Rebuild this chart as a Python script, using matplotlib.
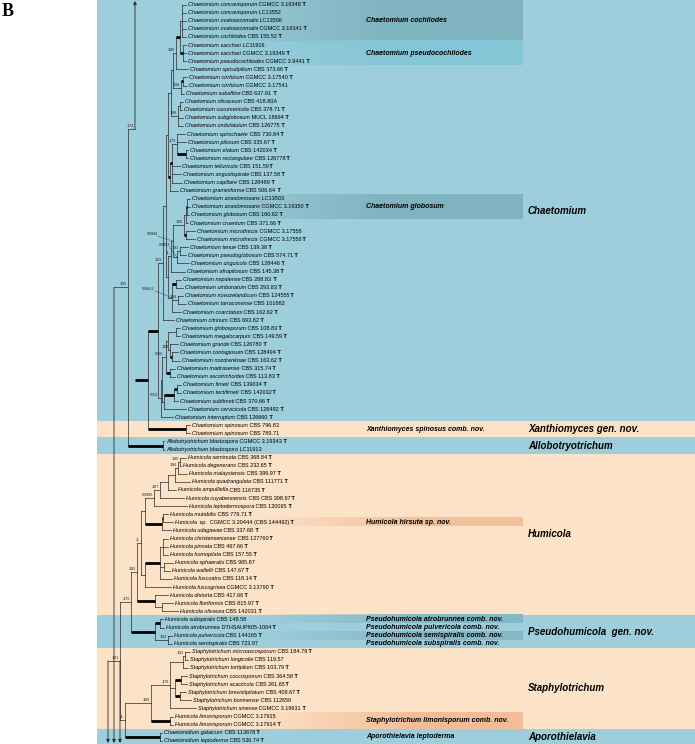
import numpy as np
import matplotlib.pyplot as plt
from matplotlib.collections import LineCollection
from matplotlib.colors import to_rgb

plt.rcParams['font.family'] = ['Liberation Sans', 'DejaVu Sans']

# ---------------- data ----------------
species = [
    "Chaetomium concavisporum", "Chaetomium concavisporum", "Chaetomium ovatoascomatis",
    "Chaetomium ovatoascomatis", "Chaetomium cochliodes", "Chaetomium sacchari",
    "Chaetomium sacchari", "Chaetomium pseudocochliodes", "Chaetomium spiculipilium",
    "Chaetomium cirrhinum", "Chaetomium cirrhinum", "Chaetomium subaffine",
    "Chaetomium olivaceum", "Chaetomium cucumericola", "Chaetomium subglobosum",
    "Chaetomium undulatulum", "Chaetomium spirochaete", "Chaetomium pilosum",
    "Chaetomium elatum", "Chaetomium rectangulare", "Chaetomium telluricola",
    "Chaetomium angustispirale", "Chaetomium capillare", "Chaetomium graminiforme",
    "Chaetomium anastomosans", "Chaetomium anastomosans", "Chaetomium globosum",
    "Chaetomium cruentum", "Chaetomium microthecia", "Chaetomium microthecia",
    "Chaetomium tenue", "Chaetomium pseudoglobosum", "Chaetomium unguicola",
    "Chaetomium afropilosum", "Chaetomium nepalense", "Chaetomium umbonatum",
    "Chaetomium novozelandicum", "Chaetomium tarraconense", "Chaetomium coarctatum",
    "Chaetomium citrinum", "Chaetomium globosporum", "Chaetomium megalocarpum",
    "Chaetomium grande", "Chaetomium contagiosum", "Chaetomium nozdrenkoae",
    "Chaetomium madrasense", "Chaetomium ascotrichoides", "Chaetomium fimeti",
    "Chaetomium tectifimeti", "Chaetomium subfimeti", "Chaetomium cervicicola",
    "Chaetomium interruptum", "Chaetomium spinosum", "Chaetomium spinosum",
    "Allobotryotrichum blastospora", "Allobotryotrichum blastospora",
    "Humicola seminuda", "Humicola degenerans", "Humicola malaysiensis",
    "Humicola quadrangulata", "Humicola ampulliella", "Humicola cuyabenoensis",
    "Humicola leptodermospora", "Humicola mutabilis", "Humicola",
    "Humicola udagawae", "Humicola christensenianae", "Humicola pinnata",
    "Humicola homopilata", "Humicola sphaeralis", "Humicola wallefii",
    "Humicola fuscoatra", "Humicola fuscogrisea", "Humicola distorta",
    "Humicola floriformis", "Humicola olivacea", "Humicola subspiralis",
    "Humicola atrobrunnea", "Humicola pulvericola", "Humicola semispiralis",
    "Staphylotrichum microascosporum", "Staphylotrichum longicolle",
    "Staphylotrichum tortipilum", "Staphylotrichum coccosporum",
    "Staphylotrichum acaciicola", "Staphylotrichum brevistipitatum",
    "Staphylotrichum boninense", "Staphylotrichum sinense",
    "Humicola limonisporum", "Humicola limonisporum",
    "Chaetomidium galaicum", "Chaetomidium leptoderma",
]
strains = [
    "CGMCC 3.19348", "LC13552", "LC13506", "CGMCC 3.19341", "CBS 155.52",
    "LC11916", "CGMCC 3.19349", "CGMCC 3.9441", "CBS 373.66", "CGMCC 3.17540",
    "CGMCC 3.17541", "CBS 637.91", "CBS 418.80A", "CBS 378.71", "MUCL 18694",
    "CBS 126775", "CBS 730.84", "CBS 335.67", "CBS 142034", "CBS 126778",
    "CBS 151.59", "CBS 137.58", "CBS 128489", "CBS 506.84", "LC13503",
    "CGMCC 3.19350", "CBS 160.62", "CBS 371.66", "CGMCC 3.17558", "CGMCC 3.17556",
    "CBS 139.38", "CBS 574.71", "CBS 128446", "CBS 145.38", "CBS 288.83",
    "CBS 293.83", "CBS 124555", "CBS 101882", "CBS 162.62", "CBS 693.82",
    "CBS 108.83", "CBS 149.59", "CBS 126780", "CBS 128494", "CBS 163.62",
    "CBS 315.74", "CBS 113.83", "CBS 139034", "CBS 142032", "CBS 370.66",
    "CBS 128492", "CBS 126660", " CBS 796.83", "CBS 789.71",
    "CGMCC 3.19343", "LC11913",
    "CBS 368.84", "CBS 232.65", "CBS 399.97", "CBS 111771", "CBS 116735",
    "CBS CBS 398.97", "CBS 120095", "CBS 779.71", "sp.  CGMCC 3.20444 (CBS 144492)",
    "CBS 337.68", "CBS 127760", "CBS 467.66", "CBS 157.55", "CBS 965.87",
    "CBS 147.67", "CBS 118.14", "CGMCC 3.13790", "CBS 417.66", "CBS 815.97",
    "CBS 142031", "CBS 148.58", "DTHSAUP805-1004", "CBS 144165", "CBS 723.97",
    "CBS 184.79", "CBS 119.57", "CBS 103.79", "CBS 364.58", "CBS 261.65",
    "CBS 408.67", "CBS 112659", "CGMCC 3.19631", "CGMCC 3.17915", "CGMCC 3.17914",
    " CBS 113678", " CBS 536.74",
]
type_strain = [
    1, 0, 0, 1, 1, 0, 1, 1, 1, 1, 0, 1, 0, 1, 1, 1, 1, 1, 1, 1,
    1, 1, 1, 1, 0, 1, 1, 1, 0, 1, 1, 1, 1, 1, 1, 1, 1, 0, 1, 1,
    1, 1, 1, 1, 1, 1, 1, 1, 1, 1, 1, 1, 0, 0, 1, 0,
    1, 1, 1, 1, 1, 1, 1, 1, 1, 1, 1, 1, 1, 0, 1, 1, 1, 1, 1, 1,
    0, 1, 1, 0, 1, 0, 1, 1, 1, 1, 0, 1, 0, 1, 1, 1,
]

# tree pieces (Newick, branch lengths in pixels; '*' = bold stem, quoted text = support)
coch = "(t1:4,t2:4,t3:4,t4:4,t5:4)"
pseu = "(t6:3,t7:3,t8:3)"
na12 = f"({coch}:2,{pseu}'*':3)"
na = f"({na12}'*':4,t9:12)"
na3 = "((t10:4,t11:4)'*':2,t12:3)"
naa = f"({na}'1/96':3,{na3}'1/94':8)"
nb = "((t13:3,t14:2):2,t15:5,t16:5)"
g1 = f"({naa}:2,{nb}'1/88':7)"
g2 = "(((t17:8,t18:9,(t19:2,t20:2)'*':9)'1/79':5,t21:8,t22:9,t23:10)'*':2,t24:8)"
g12 = f"({g1}:3,{g2}'*':2)"
d2 = "((t25:3,t26:3,t27:2)'*':1,t28:2)"
d3 = f"({d2}:2,(t29:9,t30:9)'*':2)"
d5 = "((t31:8,t32:6)'1/91':3,t33:12)"
d6 = f"(({d3}'1/95':11,{d5}'0.9963':4)'0.9984':2,t34:14)"
d7 = "((t35:5,t36:7)'*':4,(t37:5,t38:8)'1/84':6,t39:9)"
dd = f"({d6}'1/-':3,{d7}'0.96/62':4)"
up1 = f"(({g12}:2,{dd}:2):3,t40:11)"
e1 = "((t41:4,t42:4):8,(t43:8,(t44:6,t45:8)'*':2)'1/89':2)"
e2 = f"({e1}:2,(t46:5,t47:5)'*':4)"
e3 = "(((t48:4,t49:4)'*':3,t50:4)'*':10,t51:22)"
g4 = f"(({e2}'0.96/-':4,{e3}:2):1,t52:12)"
crown = f"({up1}'1/59':5,{g4}'0.93/-':3)"
n148 = f"({crown}'*':10,(t53:4,t54:4)'*':38)"
x135 = f"(UP:0,{n148}'*':13)"
n128 = f"({x135}'1/74':7,(t55:1,t56:1)'*':35)"
upper_tree = f"({n128}'1/95':14,DOWN:0)"

ha = "(t57:6,t58:1)"
hb = f"({ha}'1/95':2,t59:9)"
hc = f"({hb}'1/96':3,t60:15)"
hd = f"({hc}:7,t61:8)"
he = f"({hd}:8,t62:24)"
hf = f"({he}'1/87':6,t63:33)"
hg = "((t64:5,t65:10)'*':1,t66:9)"
hh = f"({hf}'0.9985':9,{hg}'*':17)"
hi = "(((t67:5,t68:5,t69:5):3,(t70:9,t71:6)'0.95/-':4,t72:12)'*':15,t73:26)"
hj = "(t74:13,(t75:11,t76:16):7)"
hum = f"(({hh}:4,{hi}:4)'1/-':4,{hj}'*':18)"
pse = "((t77:3,t78:4)'*':5,(t79:4,t80:4)'1/93':13)"
hump = f"({hum}'1/82':6,{pse}'*':24)"
s6 = "(((t81:5,t82:3)'1/93':2,t83:5):13,((t84:6,t85:6)'*':6,(t86:6,t87:11)'*':5):5,t88:26)"
st = f"({s6}'1/78':19,(t89:3,t90:3)'*':19)"
n125 = f"({st}'1/89':26,(t91:2,t92:2)'*':35)"
n120 = f"({hump}'1/76':11,{n125}'1/-':5,DOWN:0)"
lower_tree = f"({n120}'1/81':12,DOWN:0)"

trees = [upper_tree, lower_tree]
tree_root_x = [114, 108]
UP_Y = -122  # position of the off-panel sister clade above

group_rows = [(1, 52), (53, 54), (55, 56), (57, 76), (77, 80), (81, 90), (91, 92)]
group_names = ["Chaetomium", "Xanthiomyces gen. nov.", "Allobotryotrichum", "Humicola",
               "Pseudohumicola  gen. nov.", "Staphylotrichum", "Aporothielavia"]
group_colors = ["#9ecedc", "#fce3c8", "#9ecedc", "#fce3c8", "#9ecedc", "#fce3c8", "#9ecedc"]

box_rows = [(1, 5), (6, 8), (25, 27), (65, 65), (77, 77), (79, 79), (89, 90)]
box_colors = ["#7fb3c0", "#84c6d6", "#7fb3c0", "#f3c09c", "#84b8c5", "#84b8c5", "#f2bd98"]
box_text_rows = [3, 7, 26, 53.5, 65, 77, 78, 79, 80, 89.5, 91.5]
box_texts = ["Chaetomium cochliodes", "Chaetomium pseudocochliodes", "Chaetomium globosum",
             "Xanthiomyces spinosus comb. nov.", "Humicola hirsuta sp. nov.",
             "Pseudohumicola atrobrunnea comb. nov.", "Pseudohumicola pulvericola comb. nov.",
             "Pseudohumicola semispiralis comb. nov.", "Pseudohumicola subspiralis comb. nov.",
             "Staphylotrichum limonisporum comb. nov.", "Aporothielavia leptoderma"]

# crowded support values are pulled aside with a leader line
label_shift = {"0.9963": (-6, -9), "0.9984": (-14, -4), "0.96/62": (-16, -6)}


# ---------------- parse tree ----------------
def parse_newick(s):
    s = s.replace(" ", "")
    pos = 0

    def node():
        nonlocal pos
        n = {"children": [], "name": "", "len": 0.0}
        if s[pos] == "(":
            pos += 1
            while True:
                n["children"].append(node())
                if s[pos] == ",":
                    pos += 1
                    continue
                pos += 1
                break
        if pos < len(s) and s[pos] == "'":
            end = s.index("'", pos + 1)
            n["name"] = s[pos + 1:end]
            pos = end + 1
        else:
            start = pos
            while pos < len(s) and s[pos] not in ":,)":
                pos += 1
            n["name"] = s[start:pos]
        if pos < len(s) and s[pos] == ":":
            pos += 1
            start = pos
            while pos < len(s) and s[pos] not in ",)":
                pos += 1
            n["len"] = float(s[start:pos])
        return n

    return node()


W, H = 695, 744
Y0, DY = 4.6, 8.09


def row_y(r):
    return Y0 + (r - 1) * DY


def layout(n, x):
    n["x"] = x + n["len"]
    if not n["children"]:
        if n["name"] == "UP":
            n["y"] = UP_Y
        elif n["name"] == "DOWN":
            n["y"] = H
        else:
            n["y"] = row_y(int(n["name"][1:]))
        return
    for c in n["children"]:
        layout(c, n["x"])
    real = [c["y"] for c in n["children"] if c["name"] != "DOWN"]
    n["y"] = (min(real) + max(real)) / 2


roots = []
for s, rx in zip(trees, tree_root_x):
    r = parse_newick(s)
    layout(r, rx)
    roots.append(r)

fig = plt.figure(figsize=(6.95, 7.44), dpi=100)
ax = fig.add_axes([0, 0, 1, 1])

# background bands
for (r0, r1), col in zip(group_rows, group_colors):
    top = 0 if r0 == 1 else row_y(r0) - DY / 2
    bot = H if r1 == 92 else row_y(r1) + DY / 2
    ax.add_patch(plt.Rectangle((97, top), W - 97, bot - top, color=col, lw=0, zorder=0))

# highlight boxes with fading left edge
for (r0, r1), col in zip(box_rows, box_colors):
    top = 0 if r0 == 1 else row_y(r0) - DY / 2
    bot = row_y(r1) + DY / 2
    img = np.zeros((1, 300, 4))
    img[..., :3] = to_rgb(col)
    img[..., 3] = np.clip(np.linspace(0, 1.6, 300), 0, 1)
    x0 = 180 if r0 < 60 else 250
    ax.imshow(img, extent=(x0, 523, bot, top), aspect="auto", zorder=1,
              interpolation="bilinear")
ax.set_xlim(0, W)
ax.set_ylim(H, 0)
ax.axis("off")

# tree lines
thin, bold, arrows, tip_nodes = [], [], [], []


def draw(n):
    if not n["children"]:
        tip_nodes.append(n)
        return
    real = []
    for c in n["children"]:
        if c["name"] in ("UP", "DOWN"):
            arrows.append((n["x"], n["y"], 0 if c["name"] == "UP" else H))
            continue
        real.append(c["y"])
        seg = [(n["x"], c["y"]), (c["x"], c["y"])]
        (bold if c["name"].startswith("*") else thin).append(seg)
        draw(c)
    thin.append([(n["x"], min(real)), (n["x"], max(real))])
    sup = n["name"].lstrip("*")
    if sup:
        dx, dy = label_shift.get(sup, (0, 0))
        tx, ty = n["x"] - 1.2 + dx, n["y"] - 1.0 + dy
        ax.text(tx, ty, sup, fontsize=2.7, ha="right", va="bottom",
                color="#222222", zorder=5)
        if dx or dy:
            ax.plot([tx, n["x"]], [ty, n["y"]], color="#333333", lw=0.3, zorder=5)


for r in roots:
    draw(r)
ax.add_collection(LineCollection(thin, colors="#2a2a2a", linewidths=0.5, zorder=4,
                                 capstyle="projecting"))
ax.add_collection(LineCollection(bold, colors="black", linewidths=2.0, zorder=4,
                                 capstyle="butt"))
for x, y, yend in arrows:
    ax.annotate("", xy=(x, 1 if yend == 0 else H - 1), xytext=(x, y),
                arrowprops=dict(arrowstyle="-|>", lw=0.6, color="#2a2a2a",
                                mutation_scale=5, shrinkA=0, shrinkB=0), zorder=4)

# tip labels
for t in tip_nodes:
    i = int(t["name"][1:]) - 1
    a = ax.text(t["x"] + 2, t["y"], species[i], fontsize=4, style="italic",
                va="center", ha="left", zorder=5)
    b = ax.annotate(" " + strains[i].strip(), xy=(1, 0), xycoords=a, fontsize=4,
                    va="bottom", ha="left", zorder=5)
    if type_strain[i]:
        ax.annotate(" T", xy=(1, 0), xycoords=b, fontsize=4, weight="bold",
                    va="bottom", ha="left", zorder=5)

# box texts and group names
for r, txt in zip(box_text_rows, box_texts):
    ax.text(366, row_y(r), txt, fontsize=5, weight="bold", style="italic",
            va="center", ha="left", zorder=5)
for (r0, r1), name in zip(group_rows, group_names):
    ax.text(528, (row_y(r0) + row_y(r1)) / 2, name, fontsize=7, weight="bold",
            style="italic", va="center", ha="left", zorder=5)

ax.text(2, 12, "B", fontsize=13, weight="bold", family="Liberation Serif", va="center")

fig.savefig("out.png", dpi=100)
